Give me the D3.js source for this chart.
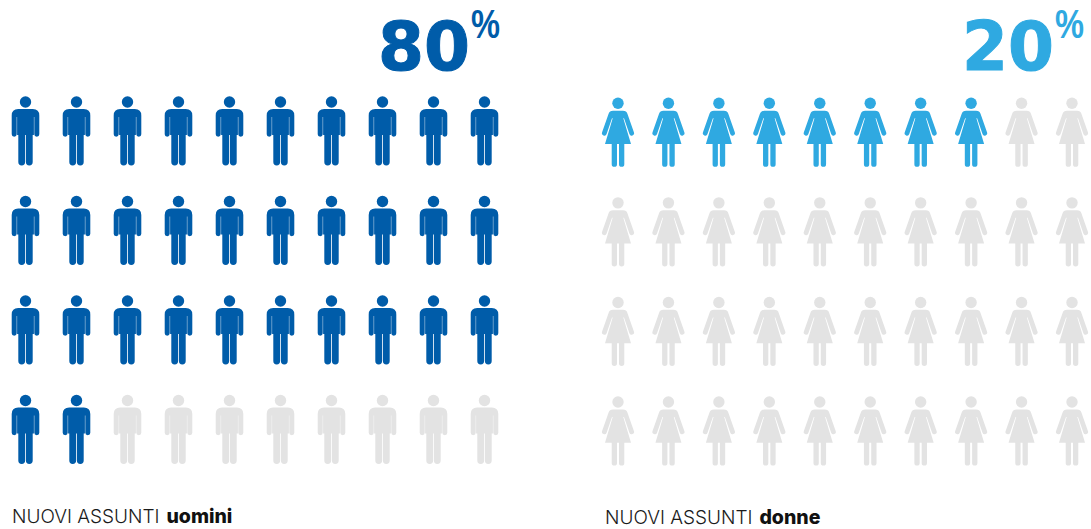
<!DOCTYPE html>
<html>
<head>
<meta charset="utf-8">
<script src="https://cdn.jsdelivr.net/npm/d3@7"></script>
<style>
html,body{margin:0;padding:0;background:#fff;overflow:hidden}
svg{display:block}
</style>
</head>
<body>
<svg id="c" width="1091" height="529"></svg>
<script>
const groups = ["uomini", "donne"];
const percentages = [80, 20];
const labelPrefix = "NUOVI ASSUNTI";
const columns = d3.range(10);
const rows = d3.range(4);
const colours = ["#005ca9", "#2fa9e1"];
const empty = "#e3e3e3";

const manPath = "M-13.8 32.2V13.5Q-13.8 7-7.3 7H7.3Q13.8 7 13.8 13.5V32.2A2.5 2.5 0 0 1 8.8 32.2V15H8.4V33H7.2V60A3.35 3.35 0 0 1 .4 60V33H-.4V60A3.35 3.35 0 0 1-7.2 60V33H-8.4V15H-8.8V32.2A2.5 2.5 0 0 1-13.8 32.2Z";
const womanPath = "M-5 7.4H5Q8.5 7.4 9.5 10.7L15.9 29A2.4 2.4 0 0 1 11.4 30.7L6 15H5.3L13 40.7H6.3V60.9A2.65 2.65 0 0 1 1 60.9V40.7H-1V60.9A2.65 2.65 0 0 1-6.3 60.9V40.7H-13L-5.3 15H-6L-11.4 30.7A2.4 2.4 0 0 1-15.9 29L-9.5 10.7Q-8.5 7.4-5 7.4Z";
const headR = 5.7;

const svg = d3.select("#c");

const panels = [
  {i:0, path:manPath, x:d3.scalePoint().domain(columns).range([25.5,484.5]), y:d3.scalePoint().domain(rows).range([102,400.5]),
   numX:378, pctX:471, labelX:12, labelY:523},
  {i:1, path:womanPath, x:d3.scalePoint().domain(columns).range([618,1072]), y:d3.scalePoint().domain(rows).range([103.3,402]),
   numX:962, pctX:1055, labelX:605, labelY:524}
];

panels.forEach(p => {
  const filled = percentages[p.i] / 100 * columns.length * rows.length;
  const cells = d3.cross(rows, columns).map(([r,c],k) => ({r,c,on:k<filled}));
  const g = svg.append("g");
  const icon = g.selectAll("g").data(cells).join("g")
    .attr("transform", d => `translate(${p.x(d.c)},${p.y(d.r)})`)
    .attr("fill", d => d.on ? colours[p.i] : empty);
  icon.append("circle").attr("r", headR);
  icon.append("path").attr("d", p.path);

  svg.append("text").attr("x", p.numX).attr("y", 70)
    .attr("font-family","'DejaVu Sans'").attr("font-weight",700).attr("font-size",68)
    .attr("textLength",92).attr("lengthAdjust","spacingAndGlyphs")
    .attr("stroke",colours[p.i]).attr("stroke-width",1)
    .attr("fill",colours[p.i]).text(percentages[p.i]);
  svg.append("text").attr("x", p.pctX).attr("y", 37.5).attr("font-family","'Liberation Sans'")
    .attr("font-weight",700).attr("font-size",40).attr("textLength",29).attr("lengthAdjust","spacingAndGlyphs")
    .attr("fill",colours[p.i]).text("%");

  const t = svg.append("text").attr("x", p.labelX).attr("y", p.labelY).attr("font-family","Inter, 'Liberation Sans'")
    .attr("font-size",19).attr("fill","#1a1a1a");
  t.append("tspan").attr("font-weight",300).text(labelPrefix + " ");
  t.append("tspan").attr("font-weight",800).attr("dx",1.5).attr("font-size",19.5).attr("fill","#111").text(groups[p.i]);
});
</script>
</body>
</html>
